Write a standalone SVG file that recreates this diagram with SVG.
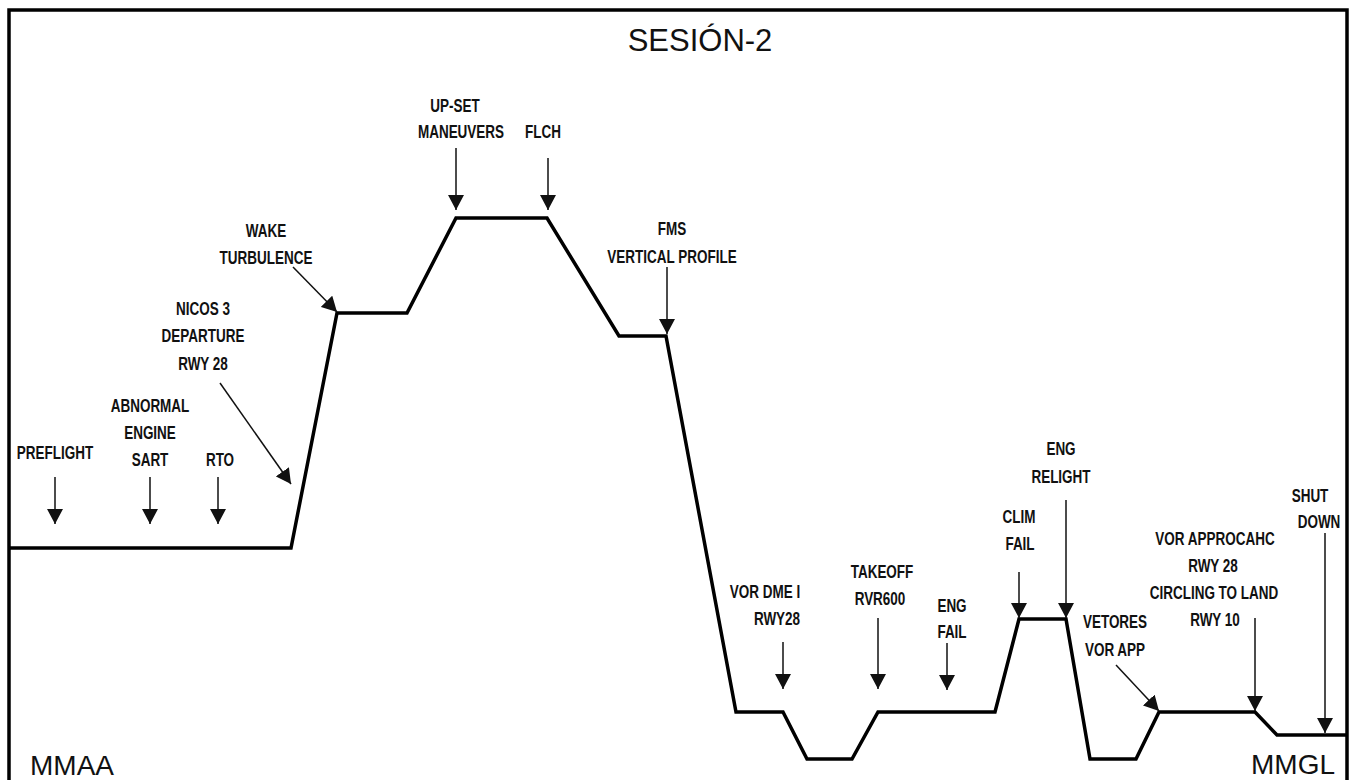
<svg xmlns="http://www.w3.org/2000/svg" width="1351" height="780" viewBox="0 0 1351 780">
<style>
.lbl{font-family:"Liberation Sans",Arial,sans-serif;font-weight:bold;font-size:18px;fill:#111;text-anchor:middle}
.big{font-family:"Liberation Sans",Arial,sans-serif;font-size:28px;fill:#111}
.arr{stroke:#111;stroke-width:1.5;fill:none;marker-end:url(#ah)}
.prof{stroke:#000;stroke-width:3.5;fill:none;stroke-linejoin:miter}
</style>
<defs>
<marker id="ah" markerUnits="userSpaceOnUse" markerWidth="16" markerHeight="16" viewBox="0 0 16 16" refX="15" refY="8" orient="auto">
<path d="M0,0 L15,8 L0,16 Z" fill="#111"/>
</marker>
</defs>
<rect width="1351" height="780" fill="#fff"/>
<g id="frame">
<path d="M9,790 L9,10 L1347,10 L1347,790" stroke="#000" stroke-width="3.5" fill="none"/>
</g>
<g id="profile">
<path class="prof" d="M9,548 L291,548 L337,313 L407,313 L456,218 L547,218 L619,336 L666,336 L736,712 L783,712 L807,759 L852,759 L878,712 L995,712 L1019,619 L1066,619 L1090,759 L1136,759 L1159,712 L1255,712 L1277,735 L1347,735"/>
</g>
<g id="title"><text x="700" y="51" font-family="Liberation Sans, Arial, sans-serif" font-size="31" fill="#111" text-anchor="middle">SESIÓN-2</text></g>
<g id="mmaa"><text class="big" x="30" y="775">MMAA</text></g>
<g id="mmgl"><text class="big" x="1251" y="774">MMGL</text></g>
<g id="preflight"><text class="lbl" transform="translate(55,459) scale(0.75,1)">PREFLIGHT</text></g>
<g id="abnormal"><text class="lbl" transform="translate(150,412) scale(0.75,1)">ABNORMAL</text><text class="lbl" transform="translate(150,439) scale(0.75,1)">ENGINE</text><text class="lbl" transform="translate(150,466) scale(0.75,1)">SART</text></g>
<g id="rto"><text class="lbl" transform="translate(220,466) scale(0.75,1)">RTO</text></g>
<g id="nicos"><text class="lbl" transform="translate(203,315) scale(0.75,1)">NICOS 3</text><text class="lbl" transform="translate(203,342) scale(0.75,1)">DEPARTURE</text><text class="lbl" transform="translate(203,370) scale(0.75,1)">RWY 28</text></g>
<g id="wake"><text class="lbl" transform="translate(266,237) scale(0.75,1)">WAKE</text><text class="lbl" transform="translate(266,264) scale(0.75,1)">TURBULENCE</text></g>
<g id="upset"><text class="lbl" transform="translate(455,112) scale(0.75,1)">UP-SET</text><text class="lbl" transform="translate(461,138) scale(0.75,1)">MANEUVERS</text></g>
<g id="flch"><text class="lbl" transform="translate(543,138) scale(0.75,1)">FLCH</text></g>
<g id="fms"><text class="lbl" transform="translate(672,235) scale(0.75,1)">FMS</text><text class="lbl" transform="translate(672,263) scale(0.75,1)">VERTICAL PROFILE</text></g>
<g id="vordme"><text class="lbl" transform="translate(765,598) scale(0.75,1)">VOR DME I</text><text class="lbl" transform="translate(777,625) scale(0.75,1)">RWY28</text></g>
<g id="takeoff"><text class="lbl" transform="translate(882,578) scale(0.75,1)">TAKEOFF</text><text class="lbl" transform="translate(880,605) scale(0.75,1)">RVR600</text></g>
<g id="engfail"><text class="lbl" transform="translate(952,612) scale(0.75,1)">ENG</text><text class="lbl" transform="translate(952,638) scale(0.75,1)">FAIL</text></g>
<g id="climfail"><text class="lbl" transform="translate(1019,523) scale(0.75,1)">CLIM</text><text class="lbl" transform="translate(1020,550) scale(0.75,1)">FAIL</text></g>
<g id="relight"><text class="lbl" transform="translate(1061,455) scale(0.75,1)">ENG</text><text class="lbl" transform="translate(1061,483) scale(0.75,1)">RELIGHT</text></g>
<g id="shutdown"><text class="lbl" transform="translate(1310,502) scale(0.75,1)">SHUT</text><text class="lbl" transform="translate(1319,528) scale(0.75,1)">DOWN</text></g>
<g id="vorapp"><text class="lbl" transform="translate(1215,545) scale(0.75,1)">VOR APPROCAHC</text><text class="lbl" transform="translate(1213,572) scale(0.75,1)">RWY 28</text><text class="lbl" transform="translate(1214,599) scale(0.75,1)">CIRCLING TO LAND</text><text class="lbl" transform="translate(1215,626) scale(0.75,1)">RWY 10</text></g>
<g id="vetores"><text class="lbl" transform="translate(1115,628) scale(0.75,1)">VETORES</text><text class="lbl" transform="translate(1115,656) scale(0.75,1)">VOR APP</text></g>
<g id="connectors">
<path class="arr" d="M55,477 L55,524"/>
<path class="arr" d="M150,477 L150,524"/>
<path class="arr" d="M218,477 L218,524"/>
<path class="arr" d="M220,383 L291,484"/>
<path class="arr" d="M293,267 L337,312"/>
<path class="arr" d="M456,148 L456,210"/>
<path class="arr" d="M548,158 L548,210"/>
<path class="arr" d="M667,267 L667,334"/>
<path class="arr" d="M783,642 L783,689"/>
<path class="arr" d="M878,618 L878,689"/>
<path class="arr" d="M947,643 L947,690"/>
<path class="arr" d="M1019,572 L1019,618"/>
<path class="arr" d="M1066,500 L1066,618"/>
<path class="arr" d="M1116,665 L1159,711"/>
<path class="arr" d="M1255,618 L1255,711"/>
<path class="arr" d="M1325,533 L1325,733"/>
</g>
</svg>
